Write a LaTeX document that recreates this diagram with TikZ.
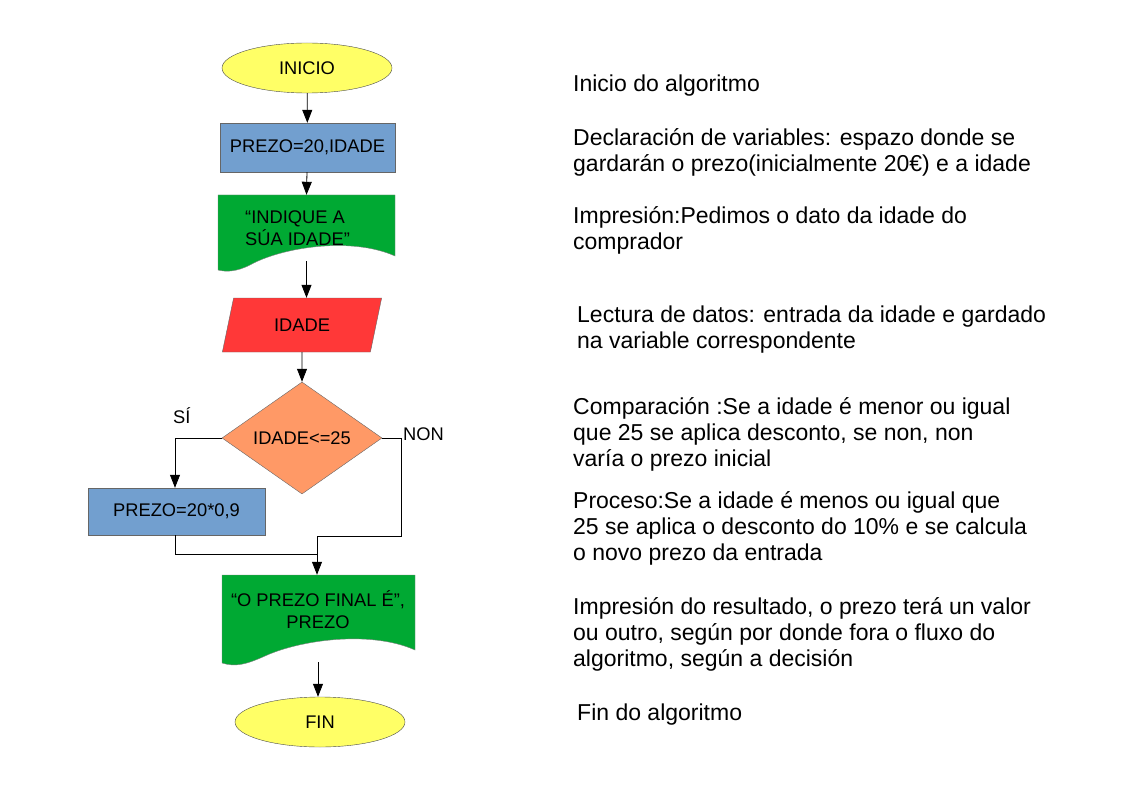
\documentclass[tikz,border=0pt]{standalone}
\usepackage{fontspec}
\setmainfont{Liberation Sans}
\usetikzlibrary{shapes.geometric,arrows.meta}
\definecolor{bl}{HTML}{729FCF}
\definecolor{gr}{HTML}{00A933}
\definecolor{rd}{HTML}{FF3838}
\definecolor{og}{HTML}{FF9966}
\definecolor{yl}{HTML}{FFFF66}
\begin{document}
\begin{tikzpicture}[x=1pt,y=-1pt,
  every node/.style={font=\fontsize{18.3}{22}\selectfont, inner sep=0pt},
  term/.style={ellipse, draw=black!70, fill=yl, minimum width=170, minimum height=50},
  proc/.style={rectangle, draw=black!60, fill=bl, minimum height=49},
  arr/.style={draw=black, line width=0.8pt, -{Triangle[length=13pt,width=10pt]}},
  ln/.style={draw=black, line width=0.8pt},
  note/.style={anchor=north west, align=left, font=\fontsize{23}{26}\selectfont}]
\useasboundingbox (0,0) rectangle (1123,794);
\node[term] (ini) at (307,68) {INICIO};
\node[proc, minimum width=175] (decl) at (307.5,147.5) {PREZO=20,IDADE};
% document 1
\fill[gr, draw=black!50] (218,195) -- (395,195) -- (395,256) .. controls (350,236) and (280,248) .. (250,265) .. controls (236,272) and (226,272) .. (218,270) -- cycle;
\node[minimum width=177, minimum height=50] (doc1) at (306.5,220) {};
\node[align=left, anchor=west] at (245,228) {“INDIQUE A\\SÚA IDADE”};
\node[trapezium, trapezium left angle=70, trapezium right angle=110, draw=black!60, fill=rd, minimum width=160, minimum height=54, trapezium stretches=true] (lec) at (302,325) {IDADE};
\node[diamond, draw=black!60, fill=og, minimum width=160, minimum height=112, aspect=1.43] (dec) at (302,438) {IDADE<=25};
\node[proc, minimum width=177, minimum height=47] (p2) at (176.5,511.5) {PREZO=20*0,9};
% document 2
\fill[gr, draw=black!50] (222,575) -- (415,575) -- (415,650) .. controls (370,630) and (300,640) .. (265,656) .. controls (245,665) and (235,667) .. (222,663) -- cycle;
\node[minimum width=193, minimum height=70] (doc2) at (318.5,610) {};
\node[align=center] at (318,610) {“O PREZO FINAL É”,\\PREZO};
\node[term] (fin) at (320,722) {FIN};
\coordinate (m1) at (317,536);
\draw[arr] (ini) -- (decl);
\draw[arr] (decl) -- (doc1.north);
\draw[arr] (306.5,261) -- (lec.north -| 306.5,0);
\draw[arr] (lec) -- (dec);
\draw[arr] (dec.west) -| (p2.north -| 175,0);
\draw[ln] (dec.east) -- (401,438) |- (m1);
\draw[ln] (p2.south -| 175,0) |- (317,554);
\draw[arr] (m1) -- (doc2.north -| m1);
\draw[arr] (318,662) -- (fin.north -| 318,0);
\node[anchor=south west] (si) at (173,424) {SÍ};
\node[anchor=south west] (non) at (403,441) {NON};
\node[note] (n1) at (573,75) {Inicio do algoritmo};
\node[note] (n2) at (573,128) {Declaración de variables: espazo donde se\\gardarán o prezo(inicialmente 20€) e a idade};
\node[note] (n3) at (573,206) {Impresión:Pedimos o dato da idade do\\comprador};
\node[note] (n4) at (577,306) {Lectura de datos: entrada da idade e gardado\\na variable correspondente};
\node[note] (n5) at (573,397) {Comparación :Se a idade é menor ou igual\\que 25 se aplica desconto, se non, non\\varía o prezo inicial};
\node[note] (n6) at (573,491) {Proceso:Se a idade é menos ou igual que\\25 se aplica o desconto do 10\% e se calcula\\o novo prezo da entrada};
\node[note] (n7) at (573,597) {Impresión do resultado, o prezo terá un valor\\ou outro, según por donde fora o fluxo do\\algoritmo, según a decisión};
\node[note] (n8) at (577,704) {Fin do algoritmo};
\end{tikzpicture}
\end{document}
